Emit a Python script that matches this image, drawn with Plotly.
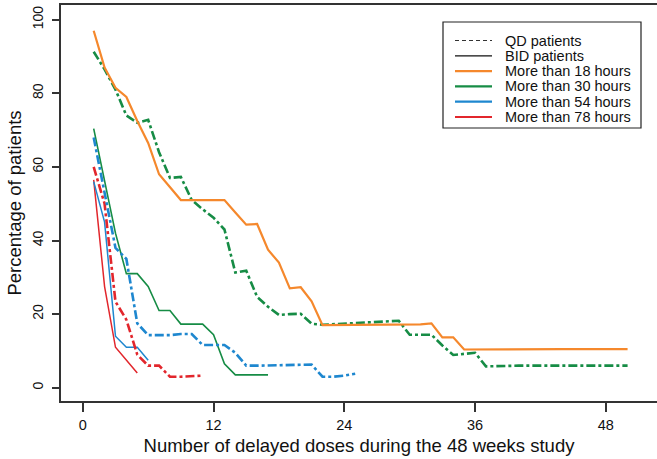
import plotly.graph_objects as go

# ---- data ----
orange_bid_x = [1, 2, 3, 4, 5, 6, 7, 8, 9, 10, 11, 12, 13, 14, 15, 16, 17, 18, 19, 20, 21, 22, 30, 31, 32, 33, 34, 35, 44, 50]
orange_bid_y = [97, 87, 81.5, 79, 72.5, 66.5, 58, 54.5, 51, 51, 51, 51, 51, 47.6, 44.3, 44.5, 37.5, 34, 27, 27.3, 23.5, 17, 17, 17.2, 17.5, 13.7, 13.7, 10.4, 10.5, 10.5]

green_qd_x = [1, 2, 3, 4, 5, 6, 7, 8, 9, 10, 11, 12, 13, 14, 15, 16, 17, 18, 19, 20, 21, 22, 29, 30, 31, 32, 33, 34, 35, 36, 37, 40, 50]
green_qd_y = [91.3, 86.5, 81, 74, 72, 72.8, 64, 57, 57.3, 51, 48.5, 46.2, 43, 31.3, 31.8, 24.7, 22, 19.8, 20, 20.1, 17.4, 17.1, 18.2, 14.4, 14.4, 14.4, 11.5, 8.9, 9.2, 9.5, 5.8, 6, 6]

green_bid_x = [1, 2, 3, 4, 5, 6, 7, 8, 9, 10, 11, 12, 13, 14, 15, 16, 17]
green_bid_y = [70.4, 56, 42, 31, 31, 27.5, 21, 21, 17.3, 17.3, 17.3, 14.4, 6.5, 3.5, 3.5, 3.5, 3.5]

blue_qd_x = [1, 2, 3, 4, 5, 6, 7, 8, 9, 10, 11, 12, 13, 14, 15, 16, 17, 18, 19, 20, 21, 22, 23, 24, 25]
blue_qd_y = [68, 53, 38, 35, 17.5, 14.3, 14.3, 14.3, 14.6, 14.6, 11.6, 11.6, 11.6, 9.5, 6, 6, 6.1, 6.2, 6.3, 6.3, 6.3, 3, 3, 3.3, 3.8]

blue_bid_x = [1, 2, 3, 4, 5, 6]
blue_bid_y = [56, 45, 14, 11, 11, 7.5]

red_qd_x = [1, 2, 3, 4, 5, 6, 7, 8, 9, 10, 11]
red_qd_y = [60, 50, 23.4, 18.5, 9, 6, 6, 3, 3, 3.2, 3.3]

red_bid_x = [1, 2, 3, 4, 5]
red_bid_y = [56.5, 27.5, 11, 7.5, 4]

x_ticks = [0, 12, 24, 36, 48]
y_ticks = [0, 20, 40, 60, 80, 100]

legend_labels = ["QD patients", "BID patients", "More than 18 hours",
                 "More than 30 hours", "More than 54 hours", "More than 78 hours"]

ORANGE = "#F5882C"
GREEN = "#168C45"
BLUE = "#1E87CF"
RED = "#E2262C"
DASH = "9px,3px,3px,3px"
FONT = "Liberation Sans, Arial, sans-serif"

series = [
    (red_bid_x, red_bid_y, RED, "solid", 1.5),
    (blue_bid_x, blue_bid_y, BLUE, "solid", 1.5),
    (green_bid_x, green_bid_y, GREEN, "solid", 1.6),
    (red_qd_x, red_qd_y, RED, DASH, 2.6),
    (blue_qd_x, blue_qd_y, BLUE, DASH, 2.6),
    (green_qd_x, green_qd_y, GREEN, DASH, 2.6),
    (orange_bid_x, orange_bid_y, ORANGE, "solid", 2.2),
]

fig = go.Figure()
for xs, ys, col, dash, w in series:
    fig.add_trace(go.Scatter(x=xs, y=ys, mode="lines", showlegend=False,
                             line=dict(color=col, dash=dash, width=w), hoverinfo="skip"))

# ---- manual legend (R-style compact box) ----
W, H = 657, 459
ml, mr, mt, mb = 61, 0, 5, 58
pw, ph = W - ml - mr, H - mt - mb

def px(x):
    return (x - ml) / pw

def py(y):
    return (H - mb - y) / ph

fig.add_shape(type="rect", xref="paper", yref="paper",
              x0=px(443), x1=px(641), y0=py(128), y1=py(22),
              line=dict(color="#222", width=1.2), fillcolor="white", layer="above")
key_styles = [("#333", "4px,3px", 1.2), ("#111", "solid", 1.2), (ORANGE, "solid", 2.2),
              (GREEN, "solid", 2.2), (BLUE, "solid", 2.2), (RED, "solid", 2.2)]
for i, (lab, (col, dsh, w)) in enumerate(zip(legend_labels, key_styles)):
    yy = 40.5 + i * 15.3
    fig.add_shape(type="line", xref="paper", yref="paper",
                  x0=px(455), x1=px(492), y0=py(yy), y1=py(yy),
                  line=dict(color=col, dash=dsh, width=w), layer="above")
    fig.add_annotation(xref="paper", yref="paper", x=px(503), y=py(yy),
                       text=lab, showarrow=False, xanchor="left", yanchor="middle",
                       font=dict(family=FONT, size=14.5, color="#111"))

fig.update_layout(
    width=W, height=H,
    margin=dict(l=ml, r=mr, t=mt, b=mb, pad=0),
    paper_bgcolor="white", plot_bgcolor="white",
    font=dict(family=FONT, color="#111"),
    xaxis=dict(range=[-2, 52.7], tickvals=x_ticks, ticktext=[str(v) for v in x_ticks],
               showgrid=False, zeroline=False, showline=True, mirror=True,
               linecolor="#333", linewidth=1.5, ticks="outside", ticklen=9,
               tickcolor="#333", tickwidth=1.5, ticklabelstandoff=1,
               tickfont=dict(size=14.5, family=FONT),
               title=dict(text="Number of delayed doses during the 48 weeks study",
                          font=dict(size=18.5, family=FONT), standoff=7)),
    yaxis=dict(range=[-3.6, 104], tickvals=y_ticks, ticktext=[str(v) for v in y_ticks],
               showgrid=False, zeroline=False, showline=True, mirror=False,
               linecolor="#333", linewidth=1.5, ticks="outside", ticklen=7,
               tickcolor="#333", tickwidth=1.5, tickangle=-90, ticklabelstandoff=4,
               tickfont=dict(size=14, family=FONT),
               title=dict(text="Percentage of patients",
                          font=dict(size=18.5, family=FONT), standoff=3)),
)

fig.write_html("out.html")
